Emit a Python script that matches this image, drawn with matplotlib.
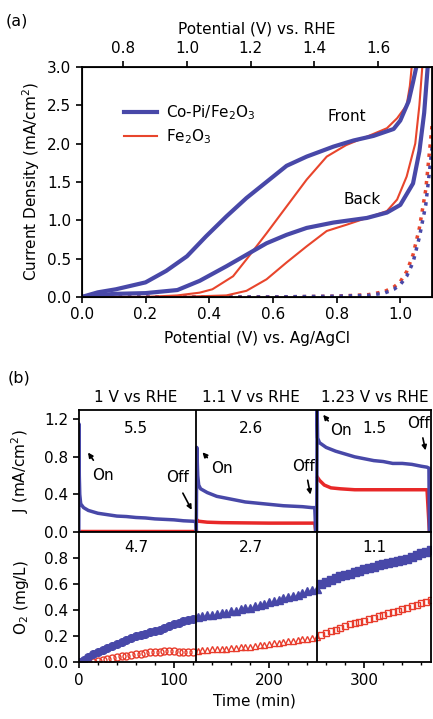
import matplotlib
matplotlib.use("Agg")
import matplotlib.pyplot as plt
from matplotlib.ticker import MultipleLocator

plt.rcParams['font.family'] = ['DejaVu Sans']
plt.rcParams['font.size'] = 11
plt.rcParams['mathtext.default'] = 'regular'

BLUE = '#4848a8'
RED = '#e8452c'

# ---- panel (a): current density vs potential (Ag/AgCl) ----
copi_front_x = [0.0, 0.05, 0.107, 0.2, 0.265, 0.33, 0.39, 0.454, 0.517, 0.58, 0.643, 0.706, 0.79, 0.853, 0.916, 0.979, 1.0, 1.026, 1.04, 1.053]
copi_front_y = [0.0, 0.06, 0.1, 0.19, 0.34, 0.53, 0.79, 1.05, 1.29, 1.5, 1.71, 1.83, 1.96, 2.04, 2.1, 2.19, 2.3, 2.55, 2.8, 3.05]
copi_back_x = [0.0, 0.1, 0.2, 0.3, 0.37, 0.454, 0.517, 0.58, 0.643, 0.706, 0.79, 0.895, 0.958, 1.0, 1.04, 1.06, 1.075, 1.087]
copi_back_y = [0.0, 0.04, 0.05, 0.09, 0.21, 0.4, 0.55, 0.7, 0.81, 0.9, 0.97, 1.03, 1.1, 1.2, 1.48, 1.9, 2.4, 3.05]
fe_front_x = [0.0, 0.2, 0.3, 0.37, 0.41, 0.475, 0.517, 0.58, 0.643, 0.706, 0.769, 0.83, 0.895, 0.958, 0.99, 1.02, 1.03, 1.037]
fe_front_y = [0.0, 0.0, 0.02, 0.056, 0.1, 0.27, 0.49, 0.83, 1.18, 1.53, 1.83, 1.98, 2.09, 2.2, 2.33, 2.5, 2.75, 3.05]
fe_back_x = [0.0, 0.3, 0.454, 0.517, 0.58, 0.643, 0.706, 0.769, 0.83, 0.895, 0.958, 0.99, 1.02, 1.047, 1.06, 1.07]
fe_back_y = [0.0, 0.0, 0.02, 0.08, 0.23, 0.45, 0.66, 0.86, 0.94, 1.03, 1.12, 1.27, 1.57, 2.0, 2.5, 3.05]
dark_x = [0.0, 0.6, 0.8, 0.9, 0.95, 0.98, 1.0, 1.02, 1.04, 1.06, 1.08, 1.1]
fe_dark_y = [0.0, 0.0, 0.01, 0.03, 0.07, 0.13, 0.2, 0.33, 0.55, 0.9, 1.4, 2.25]
copi_dark_y = [0.0, 0.0, 0.01, 0.02, 0.05, 0.1, 0.16, 0.27, 0.45, 0.78, 1.2, 1.95]
rhe_ticks = [0.8, 1.0, 1.2, 1.4, 1.6]
rhe_offset = 0.67

# ---- panel (b): chopped current density ----
j_blue_t = [[0, 0.2, 0.5, 1, 2, 5, 10, 20, 30, 40, 50, 60, 70, 80, 90, 100, 110, 120, 123, 123.5],
            [123.5, 124, 125, 126, 128, 135, 145, 155, 165, 175, 185, 195, 205, 215, 225, 235, 245, 248, 249],
            [250, 250.5, 251, 253, 260, 270, 280, 290, 300, 310, 320, 330, 340, 350, 360, 366, 368, 368.5]]
j_blue = [[0, 1.15, 0.6, 0.4, 0.3, 0.26, 0.23, 0.2, 0.185, 0.17, 0.165, 0.155, 0.15, 0.14, 0.135, 0.13, 0.12, 0.115, 0.11, 0.0],
          [0.0, 0.9, 0.6, 0.5, 0.46, 0.42, 0.38, 0.36, 0.34, 0.32, 0.31, 0.3, 0.29, 0.28, 0.275, 0.27, 0.26, 0.26, 0.0],
          [0.0, 1.3, 1.0, 0.95, 0.9, 0.86, 0.83, 0.8, 0.78, 0.76, 0.75, 0.73, 0.73, 0.72, 0.7, 0.69, 0.68, 0.0]]
j_red_t = [[0, 60, 123],
           [124, 126, 135, 150, 200, 248, 249],
           [251, 253, 258, 265, 275, 290, 320, 366, 368.5]]
j_red = [[0.015, 0.015, 0.015],
         [0.13, 0.115, 0.105, 0.1, 0.095, 0.095, 0.0],
         [0.58, 0.55, 0.5, 0.47, 0.46, 0.45, 0.45, 0.45, 0.0]]

# ---- panel (b): dissolved O2 ----
o2_blue_t = [list(range(0, 125, 5)), list(range(125, 255, 5)), list(range(255, 375, 5))]
o2_blue = [[0.0, 0.02, 0.04, 0.06, 0.08, 0.095, 0.11, 0.125, 0.14, 0.155, 0.17, 0.185, 0.2,
            0.21, 0.22, 0.23, 0.24, 0.25, 0.265, 0.275, 0.29, 0.305, 0.315, 0.325, 0.335],
           [0.35, 0.355, 0.36, 0.365, 0.37, 0.375, 0.38, 0.39, 0.395, 0.405, 0.415, 0.42, 0.43,
            0.44, 0.45, 0.46, 0.47, 0.48, 0.49, 0.5, 0.51, 0.52, 0.53, 0.545, 0.555, 0.565],
           [0.6, 0.62, 0.635, 0.65, 0.66, 0.67, 0.68, 0.69, 0.7, 0.715, 0.725, 0.735, 0.745,
            0.755, 0.76, 0.77, 0.775, 0.785, 0.795, 0.81, 0.825, 0.84, 0.85, 0.86]]
o2_red_t = [list(range(10, 125, 5)), list(range(125, 255, 5)), list(range(255, 375, 5))]
o2_red = [[0.0, 0.005, 0.01, 0.02, 0.025, 0.03, 0.04, 0.045, 0.05, 0.055, 0.06, 0.065,
           0.07, 0.075, 0.08, 0.08, 0.085, 0.085, 0.085, 0.08, 0.08, 0.075, 0.075],
          [0.085, 0.09, 0.095, 0.1, 0.1, 0.105, 0.105, 0.11, 0.11, 0.115, 0.12, 0.12, 0.125,
           0.13, 0.135, 0.14, 0.145, 0.15, 0.155, 0.16, 0.165, 0.17, 0.175, 0.18, 0.185, 0.19],
          [0.21, 0.225, 0.24, 0.25, 0.265, 0.275, 0.29, 0.3, 0.31, 0.32, 0.33, 0.34, 0.355,
           0.365, 0.375, 0.385, 0.395, 0.405, 0.42, 0.43, 0.44, 0.455, 0.465, 0.475]]
seg_edges = [123.5, 250]
seg_titles = ['1 V vs RHE', '1.1 V vs RHE', '1.23 V vs RHE']
seg_mid = [60, 181, 311]
j_ratio = ['5.5', '2.6', '1.5']
o2_ratio = ['4.7', '2.7', '1.1']
j_ticks = [0.0, 0.4, 0.8, 1.2]
o2_ticks = [0.0, 0.2, 0.4, 0.6, 0.8]
markers = ['o', '^', 's']

fig = plt.figure(figsize=(4.33, 7.19), dpi=100)

# ================= panel (a) =================
ax = fig.add_axes([0.189, 0.587, 0.809, 0.32])
ax.plot(dark_x, fe_dark_y, color=RED, lw=2.5, ls=':')
ax.plot(dark_x, copi_dark_y, color=BLUE, lw=2.5, ls=':')
ax.plot(fe_front_x, fe_front_y, color=RED, lw=1.5)
ax.plot(fe_back_x, fe_back_y, color=RED, lw=1.5, label='Fe$_2$O$_3$')
ax.plot(copi_front_x, copi_front_y, color=BLUE, lw=3, label='Co-Pi/Fe$_2$O$_3$')
ax.plot(copi_back_x, copi_back_y, color=BLUE, lw=3)
ax.set_xlim(0, 1.1)
ax.set_ylim(0, 3.0)
ax.xaxis.set_major_locator(MultipleLocator(0.2))
ax.yaxis.set_major_locator(MultipleLocator(0.5))
ax.xaxis.set_major_formatter(plt.FormatStrFormatter('%.1f'))
ax.yaxis.set_major_formatter(plt.FormatStrFormatter('%.1f'))
ax.tick_params(direction='out', length=4, width=1.2)
ax.set_xlabel('Potential (V) vs. Ag/AgCl', labelpad=6)
ax.set_ylabel('Current Density (mA/cm$^2$)', labelpad=4)
for s in ax.spines.values():
    s.set_linewidth(1.3)
h, l = ax.get_legend_handles_labels()
ax.legend(h[::-1], l[::-1], loc='upper left', bbox_to_anchor=(0.08, 0.9), frameon=False,
          handlelength=2.2, handletextpad=0.6, labelspacing=0.3)
ax.text(0.833, 2.35, 'Front', ha='center', va='center')
ax.text(0.88, 1.27, 'Back', ha='center', va='center')

top = ax.twiny()
top.set_xlim(0, 1.1)
top.set_xticks([v - rhe_offset for v in rhe_ticks])
top.set_xticklabels(['%.1f' % v for v in rhe_ticks])
top.tick_params(direction='out', length=4, width=1.2)
top.set_xlabel('Potential (V) vs. RHE', labelpad=6)
fig.text(0.012, 0.965, '(a)', fontsize=11.5)

# ================= panel (b) =================
axj = fig.add_axes([0.182, 0.26, 0.813, 0.17])
axo = fig.add_axes([0.182, 0.079, 0.813, 0.181], sharex=axj)

for i in range(3):
    axj.plot(j_red_t[i], j_red[i], color='#e82828', lw=2.5)
    axj.plot(j_blue_t[i], j_blue[i], color=BLUE, lw=2.5)
    axo.plot(o2_red_t[i], o2_red[i], ls='none', marker=markers[i], ms=5, mfc='none',
             mec='#e83c2c', mew=1)
    axo.plot(o2_blue_t[i], o2_blue[i], ls='none', marker=markers[i], ms=5.5, color=BLUE)
    axj.text(seg_mid[i], 1.1, j_ratio[i], ha='center', va='center')
    axo.text(seg_mid[i], 0.885, o2_ratio[i], ha='center', va='center')
    axj.text(seg_mid[i], 1.43, seg_titles[i], ha='center', va='center')

for e in seg_edges:
    axj.axvline(e, color='black', lw=1.3)
    axo.axvline(e, color='black', lw=1.3)

axj.set_xlim(0, 370)
axj.set_ylim(0, 1.3)
axo.set_ylim(0, 1.0)
axj.set_yticks(j_ticks)
axo.set_yticks(o2_ticks)
axj.yaxis.set_major_formatter(plt.FormatStrFormatter('%.1f'))
axo.yaxis.set_major_formatter(plt.FormatStrFormatter('%.1f'))
axo.xaxis.set_major_locator(MultipleLocator(100))
axo.xaxis.set_minor_locator(MultipleLocator(20))
axj.tick_params(axis='x', which='both', bottom=False, labelbottom=False)
axj.tick_params(axis='y', direction='out', length=4, width=1.2)
axo.tick_params(direction='out', length=4, width=1.2)
axo.tick_params(which='minor', direction='out', length=2.5, width=1)
axj.set_ylabel('J (mA/cm$^2$)', labelpad=4)
axo.set_ylabel('O$_2$ (mg/L)', labelpad=4)
axo.set_xlabel('Time (min)', labelpad=4)
for a in (axj, axo):
    for s in a.spines.values():
        s.set_linewidth(1.3)
axj.yaxis.set_label_coords(-0.135, 0.5)
axo.yaxis.set_label_coords(-0.135, 0.5)

# On / Off arrows
arrow = dict(arrowstyle='-|>', color='black', lw=1.2, mutation_scale=7)
axj.annotate('', xy=(8, 0.87), xytext=(17, 0.74), arrowprops=arrow)
axj.text(25, 0.6, 'On', ha='center', va='center')
axj.annotate('', xy=(120, 0.21), xytext=(108, 0.44), arrowprops=arrow)
axj.text(104, 0.58, 'Off', ha='center', va='center')
axj.annotate('', xy=(128, 0.87), xytext=(137, 0.77), arrowprops=arrow)
axj.text(150, 0.68, 'On', ha='center', va='center')
axj.annotate('', xy=(244, 0.37), xytext=(240, 0.58), arrowprops=arrow)
axj.text(236, 0.7, 'Off', ha='center', va='center')
axj.annotate('', xy=(255, 1.27), xytext=(264, 1.16), arrowprops=arrow)
axj.text(275, 1.08, 'On', ha='center', va='center')
axj.annotate('', xy=(365, 0.84), xytext=(361, 1.03), arrowprops=arrow)
axj.text(357, 1.15, 'Off', ha='center', va='center')

fig.text(0.018, 0.468, '(b)', fontsize=11.5)

fig.savefig('out.png', dpi=100)
